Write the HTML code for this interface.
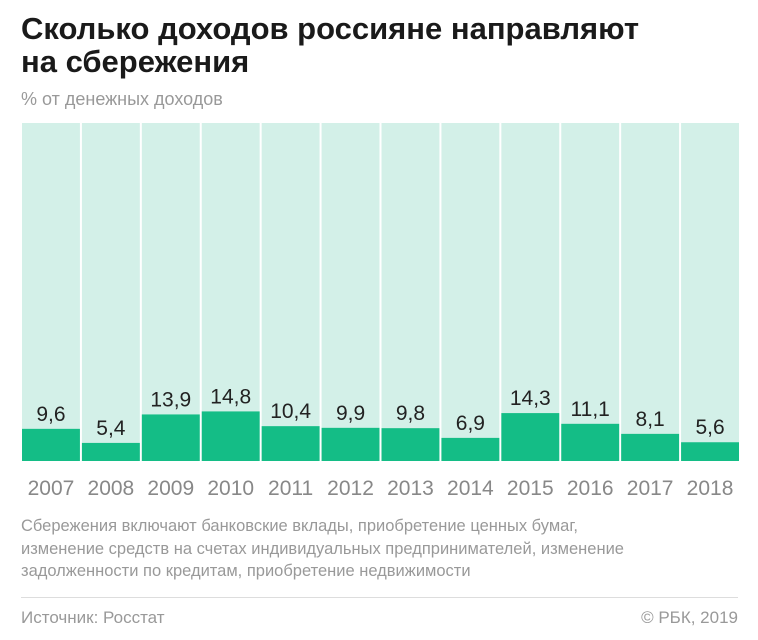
<!DOCTYPE html>
<html><head><meta charset="utf-8"><style>
body{margin:0;width:758px;height:640px;background:#fff;font-family:"Liberation Sans",sans-serif;position:relative;overflow:hidden}
.t{position:absolute;left:21px;top:12px;font-size:31px;font-weight:bold;line-height:33px;color:#1a1a1a;letter-spacing:0px}
.s{position:absolute;left:21px;top:89px;font-size:18px;color:#999}
.n{position:absolute;left:21px;top:515px;font-size:16.5px;line-height:22.5px;color:#999}
.hr{position:absolute;left:21px;right:20px;top:597px;border-top:1px solid #ddd}
.src{position:absolute;left:21px;top:608px;font-size:17px;color:#999}
.cp{position:absolute;right:20px;top:608px;font-size:17px;color:#999}
</style></head><body>
<div class="t">Сколько доходов россияне направляют<br>на сбережения</div>
<div class="s">% от денежных доходов</div>
<svg id="c" width="758" height="640" style="position:absolute;left:0;top:0"></svg>
<div class="n">Сбережения включают банковские вклады, приобретение ценных бумаг,<br>изменение средств на счетах индивидуальных предпринимателей, изменение<br>задолженности по кредитам, приобретение недвижимости</div>
<div class="hr"></div>
<div class="src">Источник: Росстат</div>
<div class="cp">© РБК, 2019</div>
<script>
const years=["2007","2008","2009","2010","2011","2012","2013","2014","2015","2016","2017","2018"];
const values=[9.6,5.4,13.9,14.8,10.4,9.9,9.8,6.9,14.3,11.1,8.1,5.6];
const labels=["9,6","5,4","13,9","14,8","10,4","9,9","9,8","6,9","14,3","11,1","8,1","5,6"];
const svg=document.getElementById('c');const NS="http://www.w3.org/2000/svg";
const x0=21,x1=740,yTop=123,base=461,ppu=3.35;
const cw=(x1-x0)/years.length;
const x=i=>x0+i*cw;
const y=v=>base-v*ppu;
function mk(t,a){const e=document.createElementNS(NS,t);for(const k in a)e.setAttribute(k,a[k]);svg.appendChild(e);return e;}
years.forEach((yr,i)=>{
 const bg=mk('rect',{x:x(i)+1,y:yTop,width:cw-2,height:base-yTop,fill:'#d3f0e8'});
 
 
 const b=mk('rect',{x:x(i)+1,y:y(values[i]),width:cw-2,height:base-y(values[i]),fill:'#14bd86'});
 
 
 const l=mk('text',{x:x(i)+cw/2,y:y(values[i])-8,'text-anchor':'middle','font-size':'21','fill':'#222','font-family':'Liberation Sans, sans-serif'});
 l.textContent=labels[i];
 
 
 const t=mk('text',{x:x(i)+cw/2,y:495,'text-anchor':'middle','font-size':'21','fill':'#888','font-family':'Liberation Sans, sans-serif'});
 t.textContent=yr;
 
 
});
</script>
</body></html>
